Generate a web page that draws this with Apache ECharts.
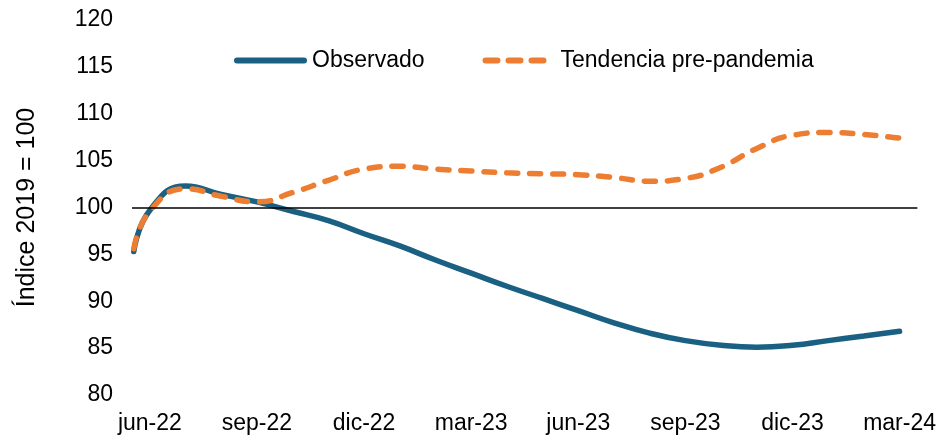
<!DOCTYPE html>
<html>
<head>
<meta charset="utf-8">
<script src="https://cdn.jsdelivr.net/npm/echarts@6/dist/echarts.min.js"></script>
<style>
  html, body { margin: 0; padding: 0; background: #fff; }
  #chart { width: 939px; height: 437px; }
</style>
</head>
<body>
<div id="chart"></div>
<script>
// meses desde jun-22 (0 = jun-22)
var months = [-0.45, 0, 1, 2, 3, 4, 5, 6, 7, 8, 9, 10, 11, 12, 13, 14, 15, 16, 17, 18, 19, 20, 21];
var observado = [95.3, 99.7, 102.3, 101.4, 100.6, 99.6, 98.6, 97.2, 95.9, 94.4, 93.0, 91.6, 90.3, 89.0, 87.7, 86.6, 85.8, 85.3, 85.1, 85.3, 85.8, 86.3, 86.8];
var tendencia = [95.6, 99.6, 102.0, 101.2, 100.6, 101.6, 102.9, 104.1, 104.4, 104.1, 103.9, 103.7, 103.6, 103.5, 103.2, 102.8, 103.1, 104.3, 106.3, 107.7, 108.0, 107.8, 107.4];
var tickMonths = [0, 3, 6, 9, 12, 15, 18, 21];
var tickLabels = ['jun-22', 'sep-22', 'dic-22', 'mar-23', 'jun-23', 'sep-23', 'dic-23', 'mar-24'];

function pairs(ys) {
    var out = [];
    for (var i = 0; i < ys.length; i++) {
        out.push([months[i], ys[i]]);
    }
    return out;
}

// iconos de la leyenda (linea continua y linea a trazos)
var iconSolid = 'path://M3,0 H70 A3,3 0 0 1 70,6 H3 A3,3 0 0 1 3,0 Z';
var iconDash = 'path://M3,0 H15 A3,3 0 0 1 15,6 H3 A3,3 0 0 1 3,0 Z' +
    ' M26,0 H38 A3,3 0 0 1 38,6 H26 A3,3 0 0 1 26,0 Z' +
    ' M49,0 H61 A3,3 0 0 1 61,6 H49 A3,3 0 0 1 49,0 Z' +
    ' M73,0 L73,0 Z';

var font = 'Liberation Sans, Arial, sans-serif';
var myChart = echarts.init(document.getElementById('chart'));
var option = {
    animation: false,
    textStyle: { fontFamily: font },
    grid: { left: 132, right: 21, top: 20, bottom: 42 },
    legend: {
        left: 229,
        top: 44,
        itemWidth: 73,
        itemHeight: 6,
        itemGap: 58,
        itemTextGap: 5,
        textStyle: { fontSize: 23, color: '#000', fontFamily: font },
        data: [
            { name: 'Observado', icon: iconSolid },
            { name: 'Tendencia pre-pandemia', icon: iconDash }
        ]
    },
    xAxis: {
        type: 'value',
        min: -0.5,
        max: 21.5,
        axisLine: { show: false },
        axisTick: { show: false },
        splitLine: { show: false },
        axisLabel: {
            customValues: tickMonths,
            margin: 17,
            fontSize: 23,
            color: '#000',
            formatter: function (v) {
                var k = tickMonths.indexOf(v);
                return k >= 0 ? tickLabels[k] : '';
            }
        }
    },
    yAxis: {
        type: 'value',
        min: 80,
        max: 120,
        interval: 5,
        name: 'Índice 2019 = 100',
        nameLocation: 'middle',
        nameGap: 92,
        nameTextStyle: { fontSize: 25, color: '#000' },
        axisLine: { show: false },
        axisTick: { show: false },
        splitLine: { show: false },
        axisLabel: { fontSize: 23, color: '#000', margin: 19 }
    },
    series: [
        {
            name: 'Observado',
            type: 'line',
            smooth: true,
            symbol: 'none',
            data: pairs(observado),
            lineStyle: { color: '#1a6083', width: 5.5, cap: 'round' },
            itemStyle: { color: '#1a6083' },
            markLine: {
                silent: true,
                symbol: 'none',
                label: { show: false },
                lineStyle: { color: '#000', width: 1.5, type: 'solid' },
                data: [{ yAxis: 100 }]
            },
            z: 2
        },
        {
            name: 'Tendencia pre-pandemia',
            type: 'line',
            smooth: true,
            symbol: 'none',
            data: pairs(tendencia),
            lineStyle: { color: '#ed7d31', width: 5.5, type: [11, 12], cap: 'round' },
            itemStyle: { color: '#ed7d31' },
            z: 3
        }
    ]
};
myChart.setOption(option);
</script>
</body>
</html>
